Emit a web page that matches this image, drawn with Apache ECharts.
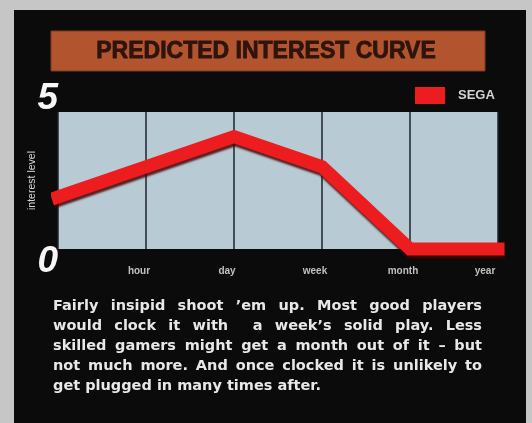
<!DOCTYPE html>
<html>
<head>
<meta charset="utf-8">
<script src="https://cdn.jsdelivr.net/npm/echarts@6/dist/echarts.min.js"></script>
<style>
  html, body { margin: 0; padding: 0; background: #c6c6c6; }
  #chart { width: 532px; height: 423px; }
</style>
</head>
<body>
<div id="chart"></div>
<script>
// Time scale along the bottom; the first slot is the unlabeled starting point.
const categories = ['', 'hour', 'day', 'week', 'month', 'year'];
// Interest level at each point (the hour slot has no vertex, the line runs straight through).
const interest = [1.9, null, 4.1, 3, 0, 0];
const seriesName = 'SEGA';
const yMin = 0;
const yMax = 5;
const yStep = 5;
const axisName = 'interest level';
const heading = 'PREDICTED INTEREST CURVE';
const blurbLines = [
  'Fairly insipid shoot \u2019em up. Most good players',
  'would clock it with  a week\u2019s solid play. Less',
  'skilled gamers might get a month out of it \u2013 but',
  'not much more. And once clocked it is unlikely to',
  'get plugged in many times after.'
];

const blurbFont = 'bold 14.5px "DejaVu Sans", sans-serif';
const blurbLeft = 53, blurbRight = 482, blurbTop = 306, blurbStep = 20;

// Lay out the blurb as a justified paragraph (last line left-aligned).
const measureCtx = document.createElement('canvas').getContext('2d');
measureCtx.font = blurbFont;
const blurbGraphics = [];
blurbLines.forEach(function (line, li) {
  const y = blurbTop + li * blurbStep;
  const words = line.split(' ');
  const widths = words.map(function (w) { return measureCtx.measureText(w).width; });
  const total = widths.reduce(function (a, b) { return a + b; }, 0);
  const last = li === blurbLines.length - 1;
  const gap = last ? measureCtx.measureText(' ').width
                   : (blurbRight - blurbLeft - total) / (words.length - 1);
  let x = blurbLeft;
  words.forEach(function (w, wi) {
    if (w) {
      blurbGraphics.push({
        type: 'text', x: x, y: y,
        style: { text: w, font: blurbFont, fill: '#e8e8e8', verticalAlign: 'middle' }
      });
    }
    x += widths[wi] + gap;
  });
});

const chart = echarts.init(document.getElementById('chart'), null, { renderer: 'canvas' });

chart.setOption({
  backgroundColor: '#0b0b0b',
  animation: false,
  title: {
    text: heading,
    left: 'center',
    top: 40,
    padding: 0,
    textStyle: {
      fontFamily: '"Liberation Sans", Arial, sans-serif',
      fontSize: 23,
      fontWeight: 'bold',
      color: '#2e140c',
      lineHeight: 24,
      textBorderColor: '#2e140c',
      textBorderWidth: 0.8
    }
  },
  legend: {
    left: 415,
    top: 87,
    padding: 0,
    icon: 'rect',
    itemWidth: 30,
    itemHeight: 17,
    data: [seriesName],
    textStyle: {
      color: '#d4d4d4',
      fontFamily: '"Liberation Sans", Arial, sans-serif',
      fontWeight: 'bold',
      fontSize: 13,
      padding: [0, 0, 0, 8]
    },
    itemStyle: { color: '#ec1c1f', borderWidth: 0, shadowBlur: 0 }
  },
  grid: {
    left: 58,
    right: 34,
    top: 112,
    bottom: 174,
    show: true,
    backgroundColor: '#b8cad4',
    borderWidth: 0
  },
  xAxis: {
    type: 'category',
    data: categories,
    boundaryGap: false,
    axisLine: { show: false },
    axisTick: { show: false },
    splitLine: { show: true, lineStyle: { color: '#1b262c', width: 1.5 } },
    axisLabel: {
      color: '#c0c0c0',
      fontFamily: '"Liberation Sans", Arial, sans-serif',
      fontWeight: 'bold',
      fontSize: 10,
      margin: 17,
      padding: [0, 14, 0, 0],
      showMinLabel: true,
      showMaxLabel: true,
      formatter: function (v, i) { return i === categories.length - 1 ? '{last|' + v + '}' : v; },
      rich: { last: { padding: [0, 12, 0, 0] } }
    }
  },
  yAxis: {
    type: 'value',
    min: yMin,
    max: yMax,
    interval: yStep,
    name: axisName,
    nameLocation: 'middle',
    nameRotate: 90,
    nameGap: 20,
    nameMoveOverlap: false,
    nameTextStyle: {
      color: '#d8d8d8',
      fontFamily: '"Liberation Sans", Arial, sans-serif',
      fontSize: 10.5
    },
    axisLine: { show: false },
    axisTick: { show: false },
    splitLine: { show: false },
    axisLabel: {
      color: '#f6f6f6',
      fontFamily: '"Liberation Sans", Arial, sans-serif',
      fontWeight: 'bold',
      fontStyle: 'italic',
      fontSize: 37,
      lineHeight: 26,
      margin: 0,
      verticalAlignMinLabel: 'top',
      verticalAlignMaxLabel: 'bottom'
    }
  },
  series: [{
    name: seriesName,
    type: 'line',
    data: interest,
    connectNulls: true,
    symbol: 'none',
    clip: false,
    color: '#ec1c1f',
    lineStyle: {
      width: 13,
      color: '#ec1c1f',
      cap: 'square',
      join: 'miter',
      shadowColor: 'rgba(70,0,0,0.85)',
      shadowBlur: 2,
      shadowOffsetX: 1,
      shadowOffsetY: 3
    }
  }],
  graphic: [
    // page margins around the black panel
    { type: 'rect', shape: { x: 0, y: 0, width: 14, height: 423 }, style: { fill: '#c6c6c6' }, z: 100 },
    { type: 'rect', shape: { x: 0, y: 0, width: 532, height: 10 }, style: { fill: '#c6c6c6' }, z: 100 },
    { type: 'rect', shape: { x: 526, y: 0, width: 6, height: 423 }, style: { fill: '#c6c6c6' }, z: 100 },
    // heading banner
    { type: 'rect', shape: { x: 51, y: 31, width: 434, height: 40 },
      style: { fill: '#b2552f', stroke: '#7e3a1f', lineWidth: 1 }, z: -1 }
  ].concat(blurbGraphics)
});
</script>
</body>
</html>
